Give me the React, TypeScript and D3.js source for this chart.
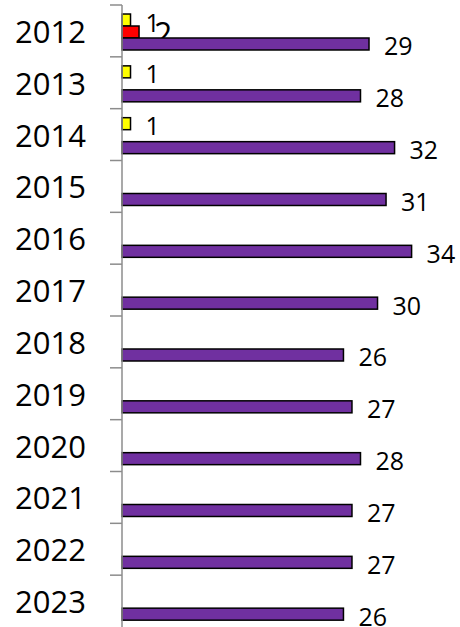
import React from 'react'
import * as d3 from 'd3'

const years = ['2012', '2013', '2014', '2015', '2016', '2017', '2018', '2019', '2020', '2021', '2022', '2023']
const yellowValues = [1, 1, 1, null, null, null, null, null, null, null, null, null]
const redValues = [2, null, null, null, null, null, null, null, null, null, null, null]
const purpleValues = [29, 28, 32, 31, 34, 30, 26, 27, 28, 27, 27, 26]

const seriesNames = ['yellow', 'red', 'purple']
const seriesColors = ['#FFFF00', '#FF0000', '#7030A0']
const seriesValues = [yellowValues, redValues, purpleValues]
const labelSizes = [25, 32, 25]

const App = () => {
  const width = 460
  const height = 627
  const axisX = 122

  // mathy bits
  const x = d3.scaleLinear().domain([0, 34]).range([axisX, axisX + 289.6])
  const y0 = d3.scaleBand().domain(years).range([5, 627]).padding(0)
  const bw = y0.bandwidth()
  const y1 = d3
    .scaleBand()
    .domain(seriesNames)
    .range([bw * 0.174, bw * 0.868])
    .padding(0)

  const fontFamily = '"Open Sans", "Liberation Sans", sans-serif'

  const groups = years.map((year, i) => (
    <g key={year} transform={`translate(0,${y0(year)})`}>
      {seriesNames.map((s, si) => {
        const v = seriesValues[si][i]
        if (v == null) return null
        const yy = y1(s)
        return (
          <g key={s}>
            <rect
              x={x(0)}
              y={yy}
              width={x(v) - x(0)}
              height={y1.bandwidth()}
              fill={seriesColors[si]}
              stroke="#000"
              strokeWidth={1.5}
            />
            <text
              x={x(v) + 15}
              y={yy + y1.bandwidth() / 2 + 1.5}
              fontSize={labelSizes[si]}
              fontFamily={fontFamily}
              dominantBaseline="central"
              fill="#000"
            >
              {v}
            </text>
          </g>
        )
      })}
    </g>
  ))

  const ticks = years.map((year) => (
    <line key={year} x1={axisX - 12} x2={axisX} y1={y0(year)} y2={y0(year)} stroke="#8c8c8c" strokeWidth={1.5} />
  ))

  const yearLabels = years.map((year) => (
    <text
      key={year}
      x={86}
      y={y0(year) + bw / 2}
      textAnchor="end"
      dominantBaseline="central"
      fontSize={31}
      fontFamily={fontFamily}
      fill="#000"
    >
      {year}
    </text>
  ))

  return (
    <div style={{ position: 'absolute', left: 0, top: 0 }}>
      <svg width={width} height={height} style={{ display: 'block', background: '#fff' }}>
        {groups}
        <line x1={axisX} x2={axisX} y1={5} y2={height} stroke="#8c8c8c" strokeWidth={1.5} />
        {ticks}
        {yearLabels}
      </svg>
    </div>
  )
}

export default App
